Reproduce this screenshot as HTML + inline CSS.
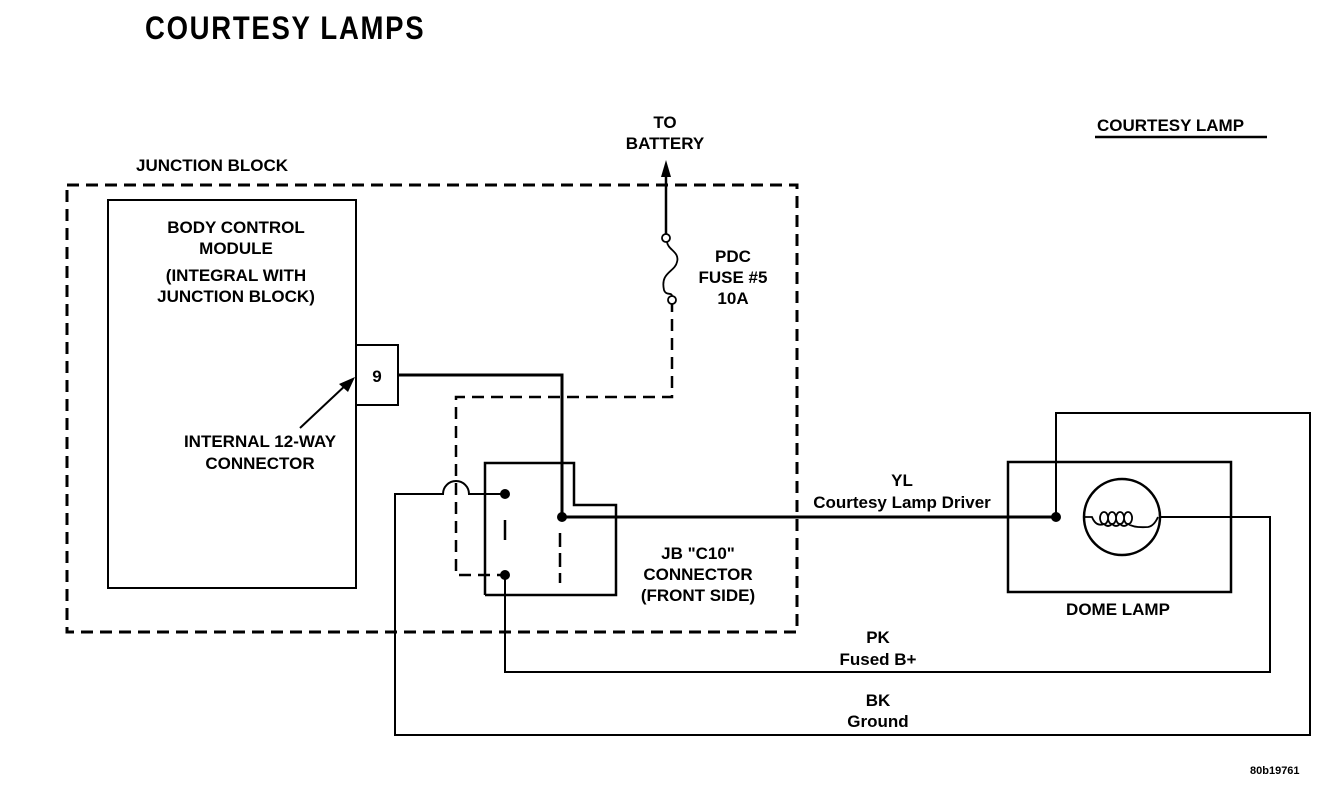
<!DOCTYPE html>
<html><head><meta charset="utf-8"><style>
html,body{margin:0;padding:0;background:#fff;width:1344px;height:786px;overflow:hidden}
svg text{font-family:"Liberation Sans",Arial,sans-serif;fill:#000}
</style></head><body>
<svg width="1344" height="786" viewBox="0 0 1344 786" xmlns="http://www.w3.org/2000/svg">
<text x="145" y="39" font-size="32" font-weight="bold" transform="translate(145,0) scale(0.86,1) translate(-145,0)" letter-spacing="2">COURTESY LAMPS</text>
<text x="1097" y="131" font-size="17" font-weight="bold">COURTESY LAMP</text>
<line x1="1095" y1="137" x2="1267" y2="137" stroke="#000" stroke-width="2.5"/>
<text x="136" y="171" font-size="17" font-weight="bold">JUNCTION BLOCK</text>
<g fill="none" stroke="#000">
<rect x="67" y="185" width="730" height="447" stroke-width="3" stroke-dasharray="12,7"/>
<rect x="108" y="200" width="248" height="388" stroke-width="2"/>
<rect x="356" y="345" width="42" height="60" stroke-width="2"/>
<polyline points="398,375 562,375 562,517 1056,517" stroke-width="3"/>
<polyline points="485,595 485,463 574,463 574,505 616,505 616,595 485,595" stroke-width="2.5"/>
<line x1="505" y1="520" x2="505" y2="540" stroke-width="2.5"/>
<line x1="560" y1="533" x2="560" y2="583" stroke-width="2.5" stroke-dasharray="14,6"/>
<polyline points="672,300 672,397 456,397 456,575 505,575" stroke-width="2.5" stroke-dasharray="12,7"/>
<path d="M505,494 H469 A12,12 0 0 0 443,494 H395 V735 H1310 V413 H1056 V517" stroke-width="2"/>
<polyline points="505,575 505,672 1270,672 1270,517 1160,517" stroke-width="2"/>
<rect x="1008" y="462" width="223" height="130" stroke-width="2.5"/>
<circle cx="1122" cy="517" r="38" stroke-width="2.5"/>
<path d="M1084,517 H1092 Q1096,527 1104,524 M1104,524 a4,6 0 1 1 0.1,0 M1104,524 Q1108,528 1112,524 a4,6 0 1 1 0.1,0 Q1116,528 1120,524 a4,6 0 1 1 0.1,0 Q1124,528 1128,524 a4,6 0 1 1 0.1,0 Q1134,528 1148,527 Q1154,526 1158,517" stroke-width="1.8"/>
<line x1="666" y1="175" x2="666" y2="235" stroke-width="2.5"/>
<path d="M667,242 C668,250 680,252 677,262 C675,272 660,272 664,290 C666,296 672,292 672,296" stroke-width="1.8"/>
<circle cx="666" cy="238" r="4" stroke-width="1.8" fill="#fff"/>
<circle cx="672" cy="300" r="4" stroke-width="1.8" fill="#fff"/>
<line x1="348" y1="383" x2="300" y2="428" stroke-width="2"/>
</g>
<polygon points="666,160 661,177 671,177" fill="#000"/>
<polygon points="355,377 339,384 348,392" fill="#000"/>
<circle cx="505" cy="494" r="5"/>
<circle cx="562" cy="517" r="5"/>
<circle cx="505" cy="575" r="5"/>
<circle cx="1056" cy="517" r="5"/>
<g font-size="17" font-weight="bold" text-anchor="middle">
<text x="665" y="128">TO</text>
<text x="665" y="149">BATTERY</text>
<text x="733" y="262">PDC</text>
<text x="733" y="283">FUSE #5</text>
<text x="733" y="304">10A</text>
<text x="236" y="233">BODY CONTROL</text>
<text x="236" y="254">MODULE</text>
<text x="236" y="281">(INTEGRAL WITH</text>
<text x="236" y="302">JUNCTION BLOCK)</text>
<text x="377" y="382">9</text>
<text x="260" y="447">INTERNAL 12-WAY</text>
<text x="260" y="469">CONNECTOR</text>
<text x="698" y="559">JB "C10"</text>
<text x="698" y="580">CONNECTOR</text>
<text x="698" y="601">(FRONT SIDE)</text>
<text x="902" y="486">YL</text>
<text x="902" y="508">Courtesy Lamp Driver</text>
<text x="1118" y="615">DOME LAMP</text>
<text x="878" y="643">PK</text>
<text x="878" y="665">Fused B+</text>
<text x="878" y="706">BK</text>
<text x="878" y="727">Ground</text>
</g>
<text x="1250" y="774" font-size="11" font-weight="bold">80b19761</text>
</svg>
</body></html>
